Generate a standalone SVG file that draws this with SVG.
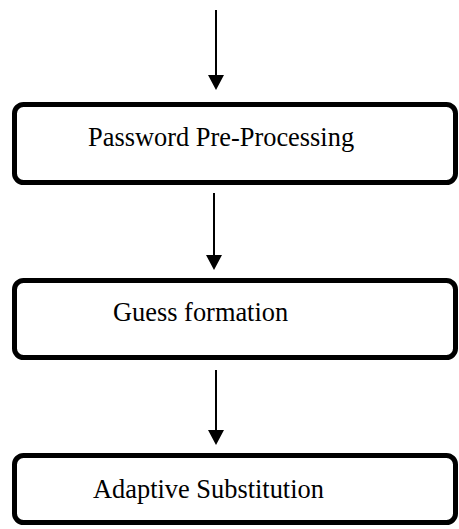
<svg xmlns="http://www.w3.org/2000/svg" width="459" height="529" viewBox="0 0 459 529">
<style>
.box{fill:#fff;stroke:#000;stroke-width:5}
.lbl{font-family:"Liberation Serif","Times New Roman",serif;font-size:26.4px;fill:#000}
.conn{stroke:#000;stroke-width:2;fill:none}
.head{fill:#000}
</style>
<rect width="459" height="529" fill="#fff"/>
<g id="connectors">
<line class="conn" x1="216" y1="10" x2="216" y2="76"/>
<path class="head" d="M208,75 L224,75 L216,90 Z"/>
<line class="conn" x1="214" y1="193" x2="214" y2="256"/>
<path class="head" d="M206,255 L222,255 L214,270 Z"/>
<line class="conn" x1="216" y1="370" x2="216" y2="431"/>
<path class="head" d="M208,430 L224,430 L216,445 Z"/>
</g>
<g id="node-preprocessing">
<rect class="box" x="14.5" y="104.5" width="441" height="78" rx="9"/>
<text class="lbl" x="88" y="146">Password Pre-Processing</text>
</g>
<g id="node-guess">
<rect class="box" x="14.5" y="280.5" width="441" height="77" rx="9"/>
<text class="lbl" x="113" y="321">Guess formation</text>
</g>
<g id="node-substitution">
<rect class="box" x="14.5" y="455.5" width="441" height="67" rx="9"/>
<text class="lbl" x="93" y="498">Adaptive Substitution</text>
</g>
</svg>
